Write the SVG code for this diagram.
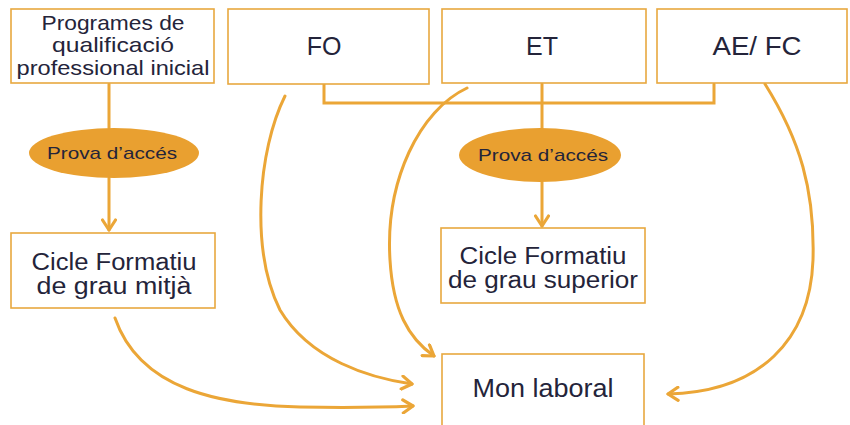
<svg xmlns="http://www.w3.org/2000/svg" width="850" height="425" viewBox="0 0 850 425">
<defs>
<style>
.box{fill:#fff;stroke:#E8A83F;stroke-width:1.6}
.ell{fill:#E9A030;stroke:none}
.ln{fill:none;stroke:#EBA637;stroke-width:3;stroke-linecap:round}
.t{font-family:"Liberation Sans",Arial,sans-serif;fill:#24243A;text-anchor:middle}
.big{font-size:25px}
.two{font-size:23px}
.mid{font-size:21px}
.sm{font-size:17px}
</style>
<marker id="ah" viewBox="-12 -8 14 16" markerWidth="14" markerHeight="16" refX="0" refY="0" orient="auto" markerUnits="userSpaceOnUse">
<path d="M-10,-6.5 L0,0 L-10,6.5" fill="none" stroke="#EBA637" stroke-width="3.2" stroke-linecap="round" stroke-linejoin="round"/>
</marker>
</defs>
<rect width="850" height="425" fill="#fff"/>
<g id="connectors">
<line class="ln" x1="109" y1="84" x2="109" y2="128"/>
<line class="ln" x1="109" y1="178" x2="109" y2="230" marker-end="url(#ah)"/>
<polyline class="ln" points="324,84 324,103 714,103 714,84"/>
<line class="ln" x1="542" y1="84" x2="542" y2="129"/>
<line class="ln" x1="542" y1="182" x2="542" y2="226" marker-end="url(#ah)"/>
<path class="ln" d="M285,96 C258,150 250,250 280,310 C310,360 370,378 412,384" marker-end="url(#ah)"/>
<path class="ln" d="M467,88 C420,110 385,180 390,260 C393,310 408,338 434,356" marker-end="url(#ah)"/>
<path class="ln" d="M115,318 C140,390 220,405 300,407 C350,408 390,407 413,406" marker-end="url(#ah)"/>
<path class="ln" d="M765,84 C800,140 815,190 813,260 C810,340 760,392 668,394" marker-end="url(#ah)"/>
</g>
<g id="n-pqpi">
<rect class="box" x="11" y="9" width="203" height="74"/>
<text class="t mid" x="113" y="30" textLength="143" lengthAdjust="spacingAndGlyphs">Programes de</text>
<text class="t mid" x="113" y="52" textLength="122" lengthAdjust="spacingAndGlyphs">qualificació</text>
<text class="t mid" x="113" y="75" textLength="193" lengthAdjust="spacingAndGlyphs">professional inicial</text>
</g>
<g id="n-fo">
<rect class="box" x="228" y="9" width="201" height="75"/>
<text class="t big" x="324" y="55">FO</text>
</g>
<g id="n-et">
<rect class="box" x="442" y="9" width="204" height="74"/>
<text class="t big" x="542" y="55">ET</text>
</g>
<g id="n-aefc">
<rect class="box" x="657" y="9" width="190" height="74"/>
<text class="t big" x="757" y="55" textLength="89" lengthAdjust="spacingAndGlyphs">AE/ FC</text>
</g>
<g id="n-prova1">
<ellipse class="ell" cx="114" cy="153" rx="85" ry="25"/>
<text class="t sm" x="112" y="159" textLength="130" lengthAdjust="spacingAndGlyphs">Prova d’accés</text>
</g>
<g id="n-prova2">
<ellipse class="ell" cx="540" cy="155" rx="81" ry="27"/>
<text class="t sm" x="543" y="161" textLength="130" lengthAdjust="spacingAndGlyphs">Prova d’accés</text>
</g>
<g id="n-cfgm">
<rect class="box" x="11" y="233" width="204" height="75"/>
<text class="t two" x="114" y="270" textLength="165" lengthAdjust="spacingAndGlyphs">Cicle Formatiu</text>
<text class="t two" x="114" y="294" textLength="155" lengthAdjust="spacingAndGlyphs">de grau mitjà</text>
</g>
<g id="n-cfgs">
<rect class="box" x="441" y="228" width="204" height="75"/>
<text class="t two" x="543" y="264" textLength="167" lengthAdjust="spacingAndGlyphs">Cicle Formatiu</text>
<text class="t two" x="543" y="288" textLength="190" lengthAdjust="spacingAndGlyphs">de grau superior</text>
</g>
<g id="n-mon">
<rect class="box" x="442" y="354" width="202" height="80"/>
<text class="t big" x="543" y="397" textLength="141" lengthAdjust="spacingAndGlyphs">Mon laboral</text>
</g>
</svg>
